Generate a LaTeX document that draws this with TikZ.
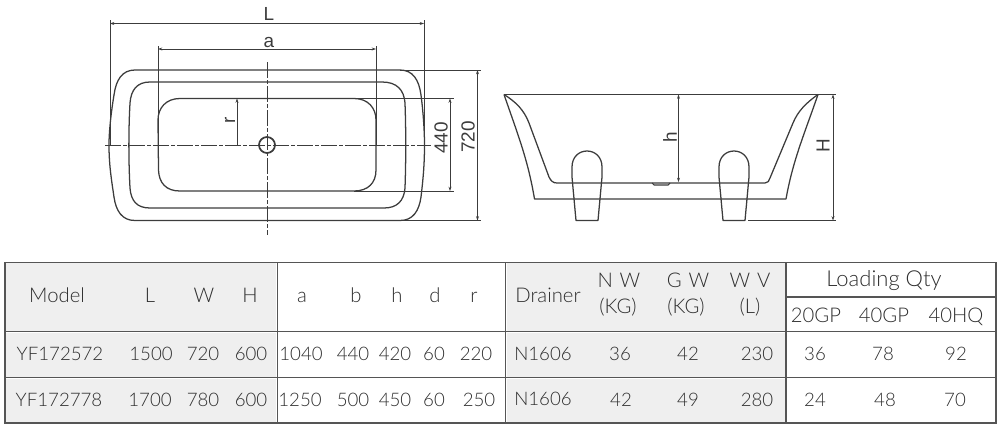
\documentclass[tikz,border=0pt]{standalone}
\usepackage{fontspec}
\setmainfont{Lato}[UprightFont=* Light]
\newfontfamily\dimfont{Liberation Sans}
\usetikzlibrary{arrows.meta}
\definecolor{ink}{HTML}{3C3C3C}
\definecolor{txt}{HTML}{2E2E2E}
\definecolor{rule}{HTML}{555555}
\definecolor{cellgray}{HTML}{EFEFEF}
\tikzset{
  tub/.style={draw=ink,line width=0.95pt,line join=round},
  ext/.style={draw=ink,line width=0.6pt},
  dim/.style={draw=ink,line width=0.6pt,{Stealth[length=3.2pt,width=2.2pt]}-{Stealth[length=3.2pt,width=2.2pt]}},
  center line/.style={draw=ink,line width=0.6pt,dash pattern=on 12pt off 1.5pt on 3pt off 1.5pt},
  grid/.style={draw=rule,line width=1.05pt},
  lab/.style={text=ink,font=\dimfont\fontsize{14.2}{17}\selectfont,inner sep=0pt},
  cell/.style={text=txt,font=\fontsize{14}{16}\selectfont,inner sep=0pt,anchor=base},
  head/.style={text=txt,font=\fontsize{15.2}{17}\selectfont,inner sep=0pt,anchor=base},
}
\newcommand{\tcell}[4]{\node[cell] (#1) at (#2,#3+6.5) {#4};}
\newcommand{\thead}[4]{\node[head] (#1) at (#2,#3+6.5) {#4};}
\begin{document}
\begin{tikzpicture}[x=0.75pt,y=-0.75pt]
\useasboundingbox (0,0) rectangle (1000,432);
% table shading
\fill[cellgray] (6,263) rectangle (276,331);
\fill[cellgray] (6,333) rectangle (276,377);
\fill[cellgray] (6,379) rectangle (276,422);
\fill[cellgray] (507,263) rectangle (785,331);
\fill[cellgray] (507,333) rectangle (785,377);
\fill[cellgray] (507,379) rectangle (785,422);
% table rules
\draw[grid] (5,262.5) rectangle (996,423);
\draw[grid] (5,331.5) -- (996,331.5);
\draw[grid] (5,377.5) -- (996,377.5);
\draw[grid] (277.5,262.5) -- (277.5,423);
\draw[grid] (505.5,262.5) -- (505.5,423);
\draw[grid] (786,262.5) -- (786,423);
\draw[grid] (786,297) -- (996,297);
% header
\thead{hModel}{57}{296}{Model}
\thead{hL}{150}{296}{L}
\thead{hW}{204}{296}{W}
\thead{hH}{250}{296}{H}
\thead{ha}{302}{296}{a}
\thead{hb}{356}{296}{b}
\thead{hh}{397}{296}{h}
\thead{hd}{435}{296}{d}
\thead{hr}{474}{296}{r}
\thead{hDr}{548}{296}{Drainer}
\thead{hNW}{619}{281}{N\,\,W}
\thead{hNWu}{618}{307}{(KG)}
\thead{hGW}{688}{281}{G\,\,W}
\thead{hGWu}{686}{307}{(KG)}
\thead{hWV}{750}{281}{W\,\,V}
\thead{hWVu}{750}{307}{(L)}
\node[head,font=\fontsize{16.5}{18}\selectfont] (hLQ) at (884,286.5) {Loading Qty};
\thead{h20}{816}{316}{20GP}
\thead{h40}{884}{316}{40GP}
\thead{hHQ}{956}{316}{40HQ}
% row 1
\tcell{a1}{60}{353.5}{YF172572}
\tcell{a2}{151}{353.5}{1500}
\tcell{a3}{203}{353.5}{720}
\tcell{a4}{251}{353.5}{600}
\tcell{a5}{301}{353.5}{1040}
\tcell{a6}{353}{353.5}{440}
\tcell{a7}{395}{353.5}{420}
\tcell{a8}{434}{353.5}{60}
\tcell{a9}{476}{353.5}{220}
\tcell{a10}{543}{353.5}{N1606}
\tcell{a11}{620}{353.5}{36}
\tcell{a12}{688}{353.5}{42}
\tcell{a13}{757}{353.5}{230}
\tcell{a14}{815}{353.5}{36}
\tcell{a15}{883}{353.5}{78}
\tcell{a16}{956}{353.5}{92}
% row 2
\tcell{b1}{59}{400}{YF172778}
\tcell{b2}{150}{400}{1700}
\tcell{b3}{203}{400}{780}
\tcell{b4}{251}{400}{600}
\tcell{b5}{300}{400}{1250}
\tcell{b6}{353}{400}{500}
\tcell{b7}{395}{400}{450}
\tcell{b8}{434}{400}{60}
\tcell{b9}{479}{400}{250}
\tcell{b10}{543}{398.5}{N1606}
\tcell{b11}{621}{400}{42}
\tcell{b12}{688}{400}{49}
\tcell{b13}{757}{400}{280}
\tcell{b14}{815}{400}{24}
\tcell{b15}{885}{400}{48}
\tcell{b16}{955}{400}{70}
% plan view
\draw[tub] (135,70) -- (400,70) .. controls (413,70) and (419,80) .. (421,95)
  .. controls (423,110) and (424.5,130) .. (424.5,145)
  .. controls (424.5,165) and (423,180) .. (421,197)
  .. controls (419,211) and (413,220.5) .. (400,220.5) -- (135,220.5)
  .. controls (122,220.5) and (116,211) .. (114,197)
  .. controls (111.5,180) and (109,165) .. (109,145)
  .. controls (109,130) and (111.5,110) .. (114,95)
  .. controls (116,80) and (122,70) .. (135,70) -- cycle;
\draw[tub] (150,82) -- (382,82) .. controls (397,82) and (404,90) .. (405,103)
  .. controls (406,130) and (406,160) .. (405,188)
  .. controls (404,201) and (397,208) .. (384,208) -- (150,208)
  .. controls (137,208) and (131,201) .. (130,188)
  .. controls (128.5,160) and (128.5,130) .. (130,103)
  .. controls (131,90) and (137,82) .. (150,82) -- cycle;
\draw[tub] (180,98.5) -- (354,98.5) .. controls (368,98.5) and (376,108) .. (376,120)
  -- (376,170) .. controls (376,183) and (368,191) .. (354,191) -- (180,191)
  .. controls (166,191) and (159,183) .. (158.5,170) -- (158,120)
  .. controls (158,108) and (166,98.5) .. (180,98.5) -- cycle;
\coordinate (plc) at (267,145);
\draw[center line] (105,145) -- (431,145);
\draw[center line] (267,62) -- (267,235);
\draw[ink,line width=1.3pt] (plc) circle[radius=8];
% plan extensions and dimensions
\draw[ext] (110,20) -- (110,145);
\draw[ext] (424,20) -- (424,145);
\draw[ext] (158,46) -- (158,145);
\draw[ext] (376,46) -- (376,145);
\draw[ext] (400,70) -- (481,70);
\draw[ext] (400,220.5) -- (481,220.5);
\draw[ext] (354,98.5) -- (454,98.5);
\draw[ext] (354,191) -- (454,191);
\draw[dim] (110,23.5) -- (424,23.5);
\draw[dim] (158,49) -- (376,49);
\draw[dim] (450,98.5) -- (450,191);
\draw[dim] (477.5,70) -- (477.5,220.5);
\draw[ext,-{Stealth[length=3.2pt,width=2.2pt]}] (237,145) -- (237,98.5);
\node[lab] (dimL) at (269,14) {L};
\node[lab] (dima) at (269,42) {a};
\node[lab,rotate=90] (dim440) at (441,138) {440};
\node[lab,rotate=90] (dim720) at (468,137) {720};
\node[lab,rotate=90] (dimr) at (230,120) {r};
% side view
\draw[tub] (504,94.5) -- (818,94.5);
\draw[tub] (504,94.5) .. controls (518,135) and (528,160) .. (534.5,199) -- (786,199)
  .. controls (793,160) and (804,135) .. (818,94.5);
\draw[tub] (504,94.5) .. controls (516,102) and (524,110) .. (529,123) -- (549,177)
  .. controls (551,181) and (553,183) .. (557,183) -- (765,183)
  .. controls (768,183) and (769,181) .. (770,178) -- (793,123)
  .. controls (798,111) and (806,103) .. (818,94.5);
\draw[ink,line width=0.8pt] (652,183) -- (654,185) -- (668,185) -- (670,183);
\foreach \lx/\rr in {572/602,719/749}{
  \draw[tub] (\lx+4,220.5) -- (\lx,177) -- (\lx,167)
    .. controls (\lx,157) and (\lx+7,151) .. (\lx+15,151)
    .. controls (\lx+23,151) and (\rr,157) .. (\rr,167)
    -- (\rr,177) -- (\rr-4,220.5) -- cycle;
}
\draw[ext] (818,94.5) -- (836,94.5);
\draw[ext] (748,220.5) -- (836,220.5);
\draw[dim] (833,94.5) -- (833,220.5);
\draw[dim] (678.5,94.5) -- (678.5,182);
\node[lab,rotate=90] (dimh) at (670,137) {h};
\node[lab,rotate=90] (dimH) at (823,145.5) {H};
\end{tikzpicture}
\end{document}
